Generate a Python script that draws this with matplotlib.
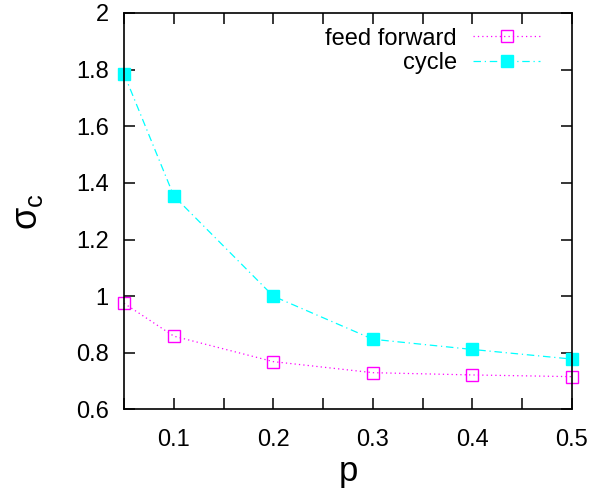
import matplotlib
matplotlib.use("Agg")
import matplotlib.pyplot as plt
from matplotlib.ticker import MultipleLocator, FixedLocator

plt.rcParams['font.family'] = ['Liberation Sans', 'DejaVu Sans']
plt.rcParams['mathtext.fontset'] = 'custom'
plt.rcParams['mathtext.rm'] = 'Liberation Sans'

p = [0.05, 0.1, 0.2, 0.3, 0.4, 0.5]
sigma_ff = [0.975, 0.859, 0.769, 0.730, 0.722, 0.716]
sigma_cycle = [1.785, 1.354, 1.0, 0.848, 0.812, 0.778]

xticks = [0.1, 0.2, 0.3, 0.4, 0.5]
xtick_labels = ["0.1", "0.2", "0.3", "0.4", "0.5"]
yticks = [0.6, 0.8, 1.0, 1.2, 1.4, 1.6, 1.8, 2.0]
ytick_labels = ["0.6", "0.8", "1", "1.2", "1.4", "1.6", "1.8", "2"]

fig = plt.figure(figsize=(5.98, 4.96), dpi=100)
ax = fig.add_axes([0.2074, 0.1744, 0.7491, 0.7994])

ax.plot(p, sigma_ff, color="#ff00ff", linestyle=(0, (1, 2.5)), linewidth=0.9,
        marker="s", markersize=8.5, markerfacecolor="none", markeredgecolor="#ff00ff",
        markeredgewidth=1.0, label="feed forward", clip_on=False)
ax.plot(p, sigma_cycle, color="#00ffff", linestyle=(0, (6, 3, 1, 3)), linewidth=0.9,
        marker="s", markersize=8.5, markerfacecolor="#00ffff", markeredgecolor="#00ffff",
        label="cycle", clip_on=False)

ax.set_xlim(0.05, 0.5)
ax.set_ylim(0.6, 2.0)
ax.xaxis.set_major_locator(FixedLocator(xticks))
ax.set_xticklabels(xtick_labels)
ax.xaxis.set_minor_locator(MultipleLocator(0.05))
ax.yaxis.set_major_locator(FixedLocator(yticks))
ax.set_yticklabels(ytick_labels)

ax.tick_params(which="both", direction="in", top=True, right=True,
               length=8, width=1.1, color="black", labelsize=17)
ax.tick_params(axis="x", pad=14)
ax.tick_params(axis="y", pad=11)
for s in ax.spines.values():
    s.set_linewidth(1.2)

ax.set_xlabel("p", fontsize=25, labelpad=3)
ax.set_ylabel("σ$_{\\mathrm{c}}$", fontsize=26, labelpad=22)

ax.legend(loc="upper right", bbox_to_anchor=(0.929, 0.963), frameon=False,
          markerfirst=False, fontsize=17, handlelength=2.85, handletextpad=0.68,
          labelspacing=0.12, borderaxespad=0.0, borderpad=0.0)

fig.savefig("out.png", dpi=100)
